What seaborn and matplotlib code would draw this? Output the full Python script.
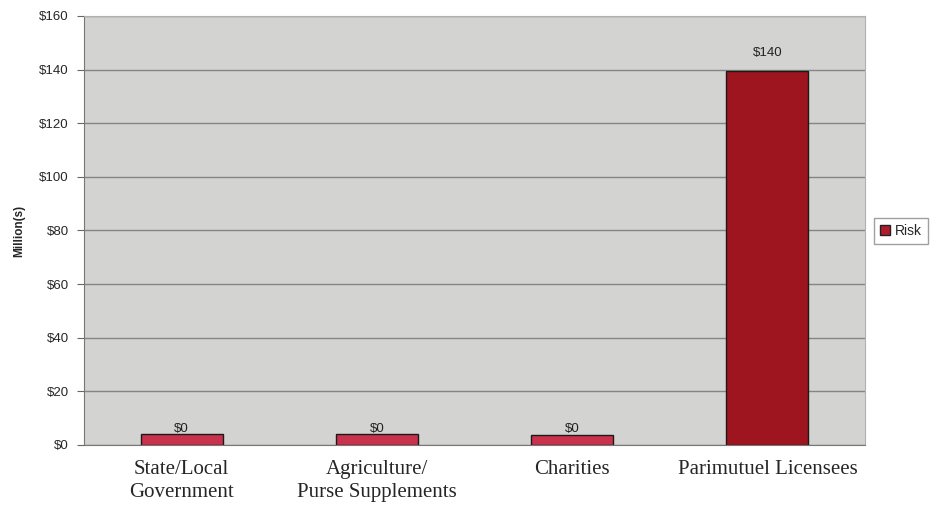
import numpy as np
import pandas as pd
import seaborn as sns
import matplotlib.pyplot as plt
from matplotlib.patches import Patch

categories = ["State/Local\nGovernment", "Agriculture/\nPurse Supplements", "Charities", "Parimutuel Licensees"]
risk = [4.2, 4.0, 3.8, 139.5]
label_values = [0, 0, 0, 140]
bar_colors = ["#c9314c", "#c9314c", "#c9314c", "#9e1520"]
yticks = [0, 20, 40, 60, 80, 100, 120, 140, 160]

df = pd.DataFrame({"Category": categories, "Risk": risk})

sns.set_style("white")
fig = plt.figure(figsize=(9.3, 5.07), dpi=100)
ax = fig.add_axes([84 / 930, 1 - 445 / 507, 781 / 930, 429 / 507])

sns.barplot(data=df, x="Category", y="Risk", hue="Category", palette=bar_colors,
            width=0.42, edgecolor="#1a1a1a", linewidth=1.0, legend=False, ax=ax, saturation=1)

ax.set_facecolor("#d3d3d1")
ax.set_ylim(0, 160)
ax.set_xlim(-0.5, 3.5)
ax.set_yticks(yticks)
ax.set_yticklabels([f"${v}" for v in yticks], fontsize=9.5, family="Liberation Sans")
ax.yaxis.grid(True, color="#858585", linewidth=1.0)
ax.set_axisbelow(True)

# tick marks between categories
ax.set_xticks([0, 1, 2, 3])
ax.set_xticklabels(categories, fontsize=15, family="Liberation Serif", linespacing=1.3)
ax.set_xticks([0.5, 1.5, 2.5], minor=True)
ax.tick_params(axis="x", which="major", length=0, pad=11)
ax.tick_params(axis="x", which="minor", length=5, color="#666666", direction="out")
ax.tick_params(axis="y", length=5, color="#666666", direction="out", left=True, pad=6)

for s in ["top", "right"]:
    ax.spines[s].set_color("#b0b0b0")
for s in ["left", "bottom"]:
    ax.spines[s].set_color("#777777")

ax.set_xlabel("")
ax.set_ylabel("Million(s)", fontsize=8.5, fontweight="bold", family="Liberation Sans", labelpad=10)

# data labels sit just above the true value
for p, v in zip(ax.patches, label_values):
    ax.text(p.get_x() + p.get_width() / 2, v + 3.9, f"${v}",
            ha="center", va="bottom", fontsize=9.5, family="Liberation Sans", color="#222222")

handles = [Patch(facecolor="#b01c2e", edgecolor="#222222", label="Risk")]
fig.legend(handles=handles, loc="center", bbox_to_anchor=(901 / 930, 1 - 231 / 507),
           prop={"family": "Liberation Sans", "size": 10}, frameon=True, fancybox=False,
           edgecolor="#888888", handlelength=0.7, handleheight=0.7, handletextpad=0.4,
           borderpad=0.45)

fig.savefig("out.png", dpi=100)
